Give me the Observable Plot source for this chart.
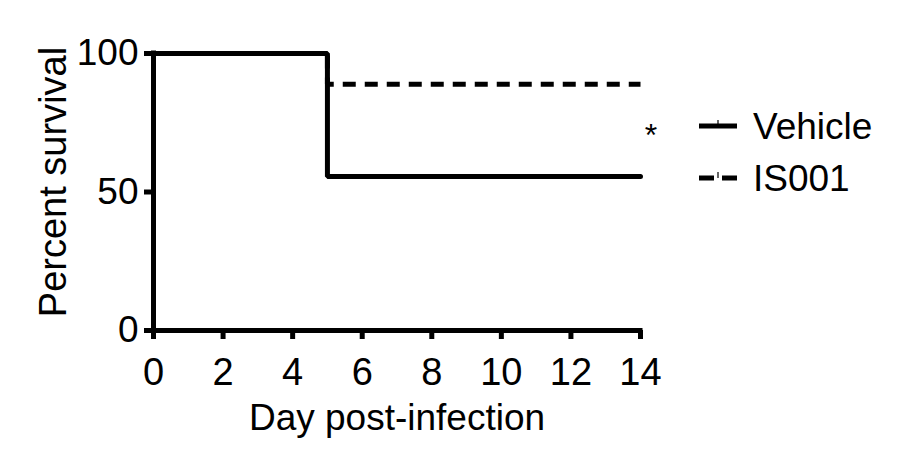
<!DOCTYPE html>
<html>
<head>
<meta charset="utf-8">
<script src="https://cdn.jsdelivr.net/npm/d3@7"></script>
<script src="https://cdn.jsdelivr.net/npm/@observablehq/plot@0.6"></script>
<style>
  html, body { margin: 0; padding: 0; background: #fff; }
  #wrap { position: relative; width: 900px; height: 475px; font-family: "Liberation Sans", Arial, Helvetica, sans-serif; }
  #legend { position: absolute; left: 0; top: 0; }
</style>
</head>
<body>
<div id="wrap"></div>
<script>
// Data
const days = [0, 5, 14];
const vehicleSurvival = [100, 55.6, 55.6];
const is001Survival = [100, 88.9, 88.9];
const seriesNames = ["Vehicle", "IS001"];
const xTicks = [0, 2, 4, 6, 8, 10, 12, 14];
const yTicks = [0, 50, 100];
const xLabel = "Day post-infection";
const yLabel = "Percent survival";

const vehicleData = days.map((d, i) => ({day: d, pct: vehicleSurvival[i]}));
const is001Data = days.map((d, i) => ({day: d, pct: is001Survival[i]}));

const font = "Liberation Sans, Arial, Helvetica, sans-serif";
const lw = 5;

const chart = Plot.plot({
  width: 900,
  height: 475,
  marginLeft: 153,
  marginRight: 260,
  marginTop: 53,
  marginBottom: 145,
  style: {fontFamily: font, color: "#000", background: "#fff", overflow: "visible"},
  x: {domain: [0, 14]},
  y: {domain: [0, 100]},
  marks: [
    Plot.axisX({ticks: xTicks, tickSize: 9, tickPadding: 19, strokeWidth: lw, fontSize: 38, label: null, tickFormat: d => String(d)}),
    Plot.axisY({ticks: yTicks, tickSize: 9, tickPadding: 6, strokeWidth: lw, fontSize: 37, label: null, tickFormat: d => String(d)}),
    Plot.ruleY([0], {strokeWidth: lw, strokeLinecap: "square"}),
    Plot.ruleX([0], {strokeWidth: lw, strokeLinecap: "square"}),
    Plot.line(is001Data, {x: "day", y: "pct", curve: "step-after", stroke: "#000", strokeWidth: lw, strokeDasharray: "13,9", strokeLinecap: "butt"}),
    Plot.line(vehicleData, {x: "day", y: "pct", curve: "step-after", stroke: "#000", strokeWidth: lw, strokeLinejoin: "miter"}),
    Plot.text([xLabel], {frameAnchor: "bottom", dy: 99, fontSize: 37, fill: "#000"}),
    Plot.text([yLabel], {frameAnchor: "left", dx: -100, dy: -10, rotate: -90, textAnchor: "middle", fontSize: 38, fill: "#000"})
  ]
});

document.getElementById("wrap").appendChild(chart);

// Legend overlay
const leg = d3.select("#wrap").append("svg")
  .attr("id", "legend").attr("width", 900).attr("height", 475)
  .style("font-family", font);

const rows = [
  {name: seriesNames[0], y: 126, dash: null},
  {name: seriesNames[1], y: 178, dash: "15,8"}
];
rows.forEach(r => {
  leg.append("line").attr("x1", 699).attr("x2", 737).attr("y1", r.y).attr("y2", r.y)
    .attr("stroke", "#000").attr("stroke-width", lw)
    .attr("stroke-dasharray", r.dash);
  leg.append("line").attr("x1", 718).attr("x2", 718).attr("y1", r.y - 6).attr("y2", r.y)
    .attr("stroke", "#000").attr("stroke-width", 1.2);
  leg.append("text").attr("x", 753).attr("y", r.y).attr("dy", "0.36em")
    .attr("font-size", 37).attr("fill", "#000").text(r.name);
});
leg.append("text").attr("x", 651).attr("y", 146)
  .attr("text-anchor", "middle").attr("font-size", 32).attr("fill", "#000").text("*");
</script>
</body>
</html>
